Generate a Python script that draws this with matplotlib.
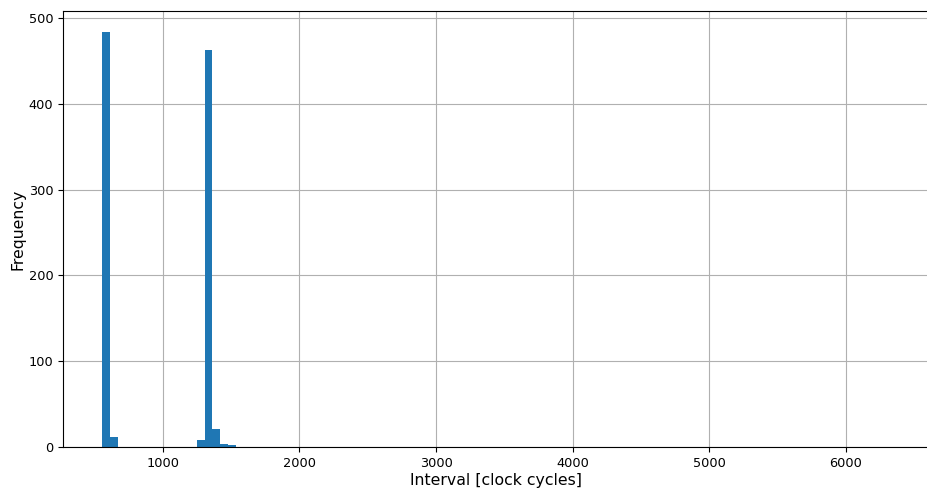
import numpy as np
import matplotlib
matplotlib.use("Agg")
import matplotlib.pyplot as plt

# Histogram of measured intervals: 100 equal bins between min and max
interval_min = 558
interval_max = 6313
n_bins = 100
# non-empty bins with a visible height: bin index -> count
bin_index = [0, 1, 12, 13, 14, 15, 16]
bin_count = [484, 12, 8, 463, 21, 3, 2]

edges = np.linspace(interval_min, interval_max, n_bins + 1)
centers = 0.5 * (edges[:-1] + edges[1:])
counts = np.zeros(n_bins)
counts[bin_index] = bin_count

fig = plt.figure(figsize=(9.28, 4.91), dpi=100)
ax = fig.add_axes([0.068, 0.0896, 0.932, 0.888])
ax.hist(centers, bins=edges, weights=counts, color="#1f77b4")
span = interval_max - interval_min
ax.set_xlim(interval_min - 0.05 * span, interval_max + 0.05 * span)
ax.grid(True, color="#b0b0b0", linewidth=0.8)
ax.set_axisbelow(True)
ax.set_xlabel("Interval [clock cycles]", fontsize=11.3, labelpad=2)
ax.set_ylabel("Frequency", fontsize=11.3, labelpad=2)
ax.tick_params(labelsize=9.3)

fig.savefig("out.png", dpi=100)
